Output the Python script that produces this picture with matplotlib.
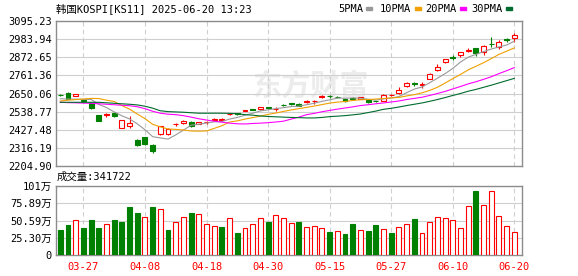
import matplotlib
matplotlib.use("Agg")
import matplotlib.pyplot as plt
import numpy as np
from matplotlib.patches import Rectangle

# daily candles, KOSPI, 60 sessions up to 2025-06-20
opens = [2642, 2653, 2635, 2613, 2592, 2517, 2519, 2531, 2441, 2451,
         2364, 2381, 2333, 2399, 2402, 2460, 2466, 2476, 2463, 2475,
         2489, 2490, 2525, 2528, 2545, 2553, 2552, 2566, 2555, 2579,
         2589, 2588, 2596, 2603, 2627, 2634, 2631, 2614, 2624, 2617,
         2613, 2603, 2607, 2640, 2653, 2694, 2712, 2705, 2741, 2792,
         2843, 2873, 2885, 2910, 2928, 2904, 2956, 2934, 2983, 2989]
highs = [2648, 2657, 2649, 2616, 2596, 2520, 2533, 2535, 2489, 2511,
         2370, 2386, 2339, 2451, 2440, 2470, 2486, 2480, 2478, 2483,
         2498, 2497, 2531, 2532, 2551, 2557, 2568, 2570, 2567, 2583,
         2594, 2592, 2610, 2613, 2640, 2643, 2634, 2618, 2627, 2631,
         2616, 2607, 2645, 2647, 2688, 2719, 2718, 2718, 2774, 2830,
         2862, 2885, 2906, 2931, 2931, 2945, 2999, 2977, 2992, 3020]
lows = [2635, 2614, 2633, 2600, 2556, 2480, 2503, 2507, 2437, 2439,
        2327, 2334, 2286, 2397, 2398, 2451, 2461, 2446, 2460, 2462,
        2485, 2486, 2520, 2520, 2540, 2546, 2549, 2558, 2541, 2572,
        2580, 2572, 2593, 2584, 2624, 2621, 2625, 2598, 2614, 2614,
        2590, 2597, 2604, 2637, 2650, 2690, 2694, 2682, 2738, 2790,
        2840, 2855, 2875, 2904, 2879, 2885, 2934, 2926, 2969, 2969]
closes = [2640, 2619, 2647, 2605, 2561, 2484, 2522, 2512, 2486, 2468,
          2333, 2339, 2297, 2448, 2435, 2463, 2482, 2451, 2474, 2477,
          2495, 2493, 2527, 2525, 2547, 2551, 2565, 2563, 2557, 2577,
          2586, 2576, 2607, 2605, 2637, 2632, 2629, 2602, 2617, 2627,
          2598, 2601, 2643, 2641, 2674, 2717, 2710, 2707, 2772, 2812,
          2859, 2870, 2904, 2920, 2896, 2943, 2953, 2967, 2980, 3012]

ma5 = [2618, 2616, 2615, 2614, 2614, 2583, 2564, 2537, 2513, 2494,
       2464, 2428, 2385, 2377, 2370, 2396, 2425, 2456, 2461, 2469,
       2476, 2478, 2493, 2503, 2517, 2529, 2543, 2550, 2557, 2563,
       2570, 2572, 2581, 2590, 2602, 2611, 2622, 2621, 2623, 2621,
       2615, 2609, 2617, 2622, 2631, 2655, 2677, 2690, 2716, 2744,
       2772, 2804, 2843, 2873, 2890, 2907, 2923, 2936, 2948, 2971]
ma10 = [2604, 2609, 2613, 2616, 2620, 2619, 2609, 2601, 2576, 2554,
        2524, 2496, 2461, 2445, 2432, 2430, 2426, 2420, 2419, 2420,
        2436, 2452, 2475, 2482, 2493, 2502, 2511, 2522, 2530, 2540,
        2549, 2557, 2565, 2573, 2582, 2591, 2597, 2601, 2607, 2612,
        2613, 2616, 2619, 2623, 2626, 2635, 2643, 2654, 2669, 2688,
        2714, 2741, 2767, 2795, 2817, 2839, 2864, 2890, 2910, 2930]
ma20 = [2596, 2594, 2593, 2591, 2590, 2587, 2584, 2581, 2578, 2575,
        2569, 2557, 2541, 2529, 2523, 2520, 2514, 2505, 2495, 2487,
        2480, 2474, 2468, 2464, 2463, 2466, 2468, 2471, 2475, 2480,
        2493, 2505, 2520, 2528, 2538, 2546, 2554, 2561, 2568, 2576,
        2581, 2587, 2592, 2598, 2604, 2613, 2620, 2627, 2638, 2650,
        2663, 2678, 2693, 2709, 2722, 2737, 2753, 2772, 2790, 2809]
ma30 = [2596, 2596, 2596, 2596, 2596, 2596, 2593, 2590, 2587, 2584,
        2580, 2572, 2560, 2544, 2539, 2537, 2535, 2532, 2529, 2529,
        2529, 2529, 2528, 2526, 2520, 2517, 2512, 2509, 2507, 2505,
        2503, 2502, 2500, 2500, 2503, 2508, 2511, 2514, 2519, 2524,
        2533, 2542, 2553, 2559, 2567, 2576, 2584, 2592, 2602, 2613,
        2625, 2638, 2650, 2664, 2675, 2688, 2701, 2715, 2729, 2743]

# volume in 万 (10k), and whether the bar is drawn red (up) or green
volume = [36.7, 44.0, 50.8, 39.6, 51.3, 39.6, 45.0, 51.3, 48.4, 70.4,
          61.6, 55.2, 70.4, 67.0, 36.7, 47.9, 55.2, 61.6, 60.1, 45.5,
          42.0, 41.0, 53.8, 32.3, 39.1, 45.0, 53.8, 48.4, 58.2, 53.8,
          47.0, 48.4, 40.6, 42.0, 39.0, 33.7, 34.7, 30.8, 45.5, 36.2,
          34.7, 44.0, 37.6, 32.3, 40.6, 45.0, 52.8, 31.8, 47.9, 55.2,
          53.8, 50.8, 39.1, 71.4, 93.8, 73.3, 93.4, 56.7, 42.0, 34.17]
vol_up = [0, 0, 1, 0, 0, 0, 1, 0, 0, 0, 0, 1, 0, 1, 0, 1, 1, 0, 1, 1,
          1, 0, 1, 0, 1, 1, 1, 0, 1, 1, 1, 0, 1, 1, 1, 0, 1, 0, 0, 1,
          0, 0, 1, 0, 1, 1, 0, 1, 1, 1, 1, 1, 1, 1, 0, 1, 1, 1, 1, 1]

price_ticks = [2204.90, 2316.19, 2427.48, 2538.77, 2650.06,
               2761.36, 2872.65, 2983.94, 3095.23]
vol_ticks = [0, 25.30, 50.59, 75.89, 101.19]
vol_labels = ["0", "25.30万", "50.59万", "75.89万", "101万"]
date_pos = [3, 11, 19, 27, 35, 43, 51, 59]
date_labels = ["03-27", "04-08", "04-18", "04-30", "05-15", "05-27",
               "06-10", "06-20"]

title = "韩国KOSPI[KS11] 2025-06-20 13:23"
vol_title = "成交量:341722"

RED = "#ff0000"
GREEN = "#008000"
GRID = "#cfcfcf"
FRAME = "#8c8c8c"
FONT = ["DejaVu Sans Mono", "Noto Sans CJK SC"]
ma_colors = ["#999999", "#f0a000", "#ff00ff", "#006b2e"]
ma_names = ["5PMA", "10PMA", "20PMA", "30PMA"]
LW = 0.8

W, H = 578, 276
fig = plt.figure(figsize=(W / 100, H / 100), dpi=100)


def box(l, t, r, b):
    return [l / W, 1 - b / H, (r - l) / W, (b - t) / H]


ax = fig.add_axes(box(56, 21, 522, 166))
axv = fig.add_axes(box(56, 186, 522, 255))

x = np.arange(len(closes))
o = np.array(opens, float)
c = np.array(closes, float)
up = c >= o

for a in (ax, axv):
    a.set_xlim(-0.56, 60.0)
    a.set_xticks(date_pos)
    a.grid(axis="x", color=GRID, lw=LW, linestyle=(0, (4, 3)))
    a.grid(axis="y", color=GRID, lw=LW)
    a.set_axisbelow(True)
    for s in a.spines.values():
        s.set_color(FRAME)
        s.set_linewidth(1)
    a.tick_params(length=0, labelsize=7.5, pad=3)

# watermark
ax.text(310 / W, 1 - 86 / H, "东方财富", transform=fig.transFigure,
        fontsize=21, color="#ececec", fontweight="bold", ha="center",
        va="center", family=["Noto Sans CJK SC"], zorder=0.2)

# candles
ax.vlines(x, lows, highs, colors=np.where(up, RED, GREEN), lw=LW, zorder=3)
bottom = np.minimum(o, c)
height = np.maximum(np.abs(c - o), 0.6)
ax.bar(x[up], height[up], bottom=bottom[up], width=0.64,
       facecolor="white", edgecolor=RED, lw=LW, zorder=4)
ax.bar(x[~up], height[~up], bottom=bottom[~up], width=0.64,
       facecolor=GREEN, edgecolor=GREEN, lw=LW, zorder=4)

for vals, col in zip([ma5, ma10, ma20, ma30], ma_colors):
    ax.plot(x, vals, color=col, lw=LW, zorder=5)

ax.set_ylim(price_ticks[0], price_ticks[-1])
ax.set_yticks(price_ticks)
ax.set_yticklabels([f"{v:.2f}" for v in price_ticks], family=FONT,
                   fontsize=7.5)
ax.set_xticklabels([])

# volume
vu = np.array(vol_up, bool)
v = np.array(volume)
axv.bar(x[vu], v[vu], width=0.64, facecolor="white", edgecolor=RED,
        lw=LW, zorder=3)
axv.bar(x[~vu], v[~vu], width=0.64, facecolor=GREEN, edgecolor=GREEN,
        lw=LW, zorder=3)
axv.set_ylim(0, vol_ticks[-1])
axv.set_yticks(vol_ticks)
axv.set_yticklabels(vol_labels, family=FONT, fontsize=7.5)
axv.set_xticklabels(date_labels, family=FONT, fontsize=7.5, color=RED)
axv.tick_params(axis="x", pad=5)

# header texts
fig.text(56 / W, 1 - 8.5 / H, title, family=FONT, fontsize=7.5,
         va="center", ha="left")
fig.text(57 / W, 1 - 177 / H, vol_title, family=FONT, fontsize=7.5,
         va="center", ha="left")

# legend: name followed by a small colour swatch
name_x = [338, 380, 425, 471]
for nx, name, col in zip(name_x, ma_names, ma_colors):
    fig.text(nx / W, 1 - 8.5 / H, name, family=FONT, fontsize=7.5,
             va="center", ha="left")
    sw = nx + 6.3 * len(name) + 3
    fig.patches.append(Rectangle((sw / W, 1 - 9.8 / H), 6 / W, 3 / H,
                                 transform=fig.transFigure, color=col))

fig.savefig("out.png", dpi=100)
